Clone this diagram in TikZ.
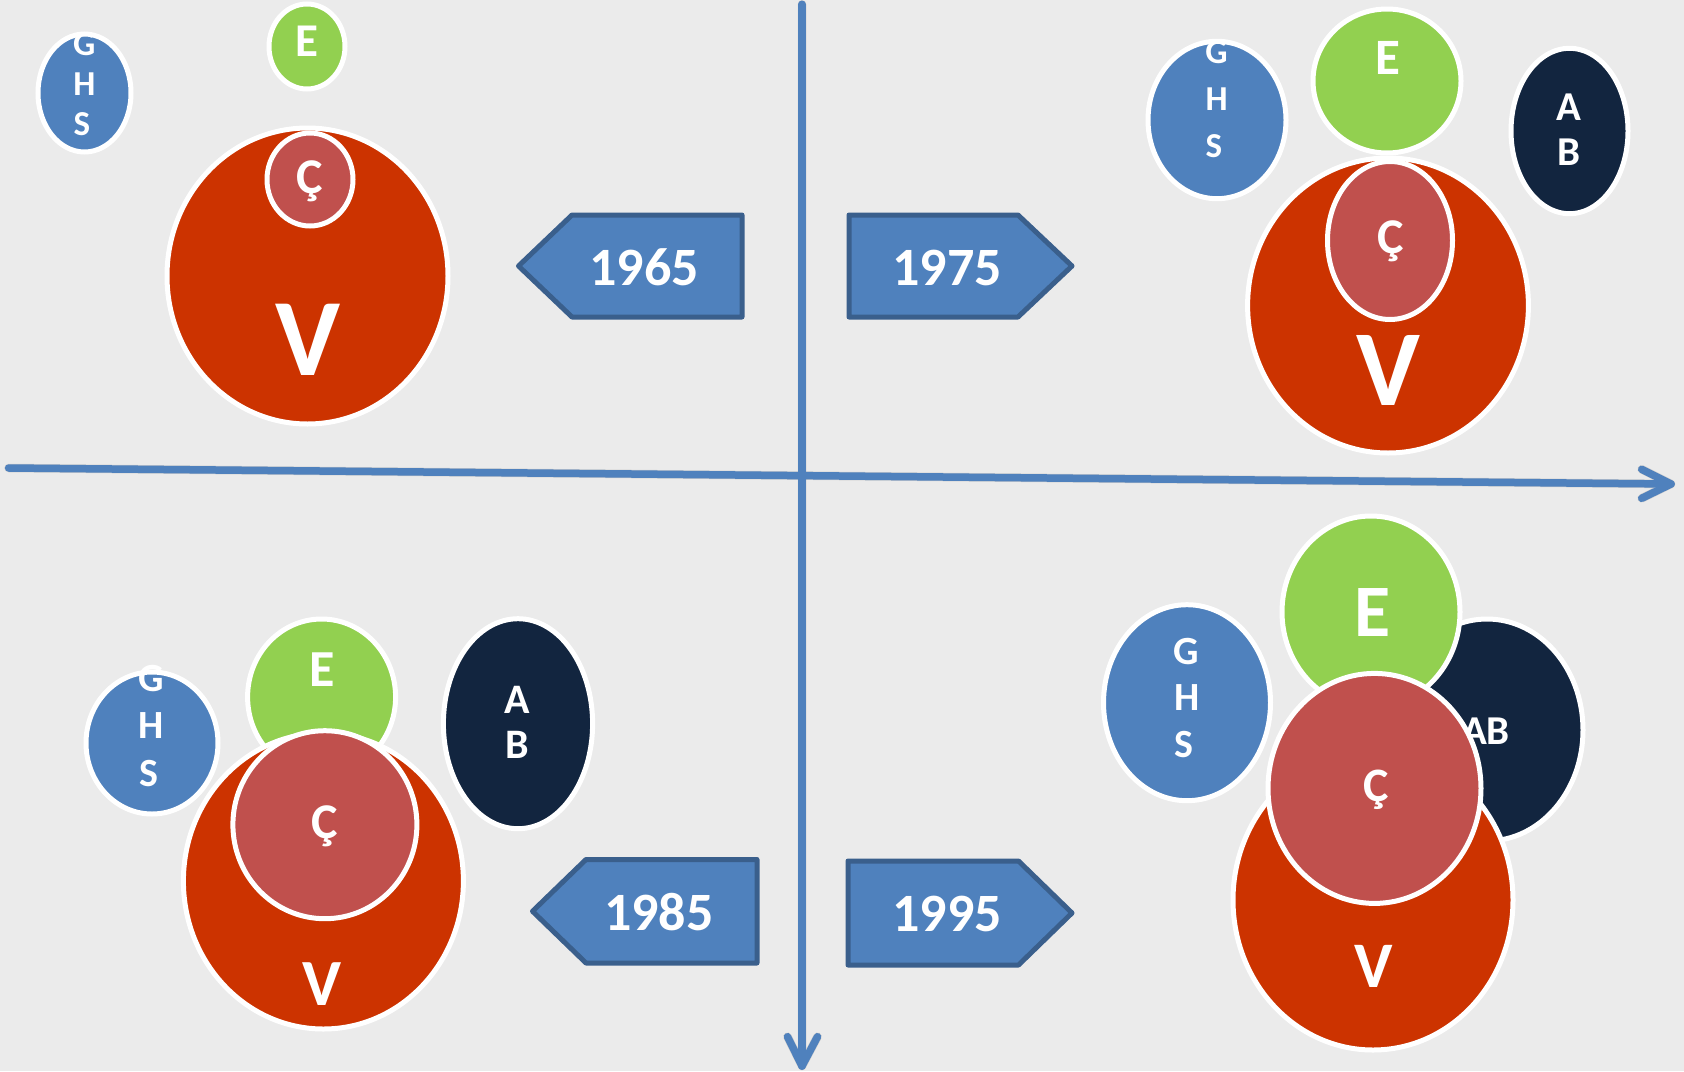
\documentclass[tikz,border=0pt]{standalone}
\usepackage{fontspec}
\setmainfont{Carlito}
\definecolor{bg}{HTML}{EBEBEB}
\definecolor{ghsblue}{HTML}{4F81BD}
\definecolor{egreen}{HTML}{92D050}
\definecolor{vred}{HTML}{CC3300}
\definecolor{cred}{HTML}{C0504D}
\definecolor{abnavy}{HTML}{12253F}
\definecolor{boxblue}{HTML}{4F81BD}
\definecolor{boxedge}{HTML}{3A5F8C}
\definecolor{axisblue}{HTML}{4F81BD}
\newcommand{\myfs}[1]{\bfseries\fontsize{#1}{#1}\selectfont}
\begin{document}
\begin{tikzpicture}[x=1pt,y=-1pt,
  bub/.style={draw=white, line width=5pt},
  lbl/.style={text=white, inner sep=0pt, anchor=base},
  yearbox/.style={draw=boxedge, fill=boxblue, line width=5pt, line join=round},
  axisline/.style={draw=axisblue, line width=7.5pt, line cap=round, line join=round},
  axisshadow/.style={draw=black, opacity=0.12, line width=8.5pt, line cap=round, line join=round}]
\useasboundingbox (0,0) rectangle (1684,1071);
\fill[bg] (0,0) rectangle (1684,1071);

% axes
\coordinate (h0) at (8.6,468);
\coordinate (h1) at (1671,484);
\coordinate (ha1) at (1641.7,469.3);
\coordinate (ha2) at (1641.7,498.3);
\coordinate (v0) at (802,4.3);
\coordinate (v1) at (802,1066);
\coordinate (va1) at (787.5,1036.7);
\coordinate (va2) at (817.5,1036.7);
\draw[axisshadow, shift={(2,3)}] (h0) -- (h1) (ha1) -- (h1) -- (ha2);
\draw[axisshadow, shift={(2,3)}] (v0) -- (v1) (va1) -- (v1) -- (va2);
\draw[axisline] (h0) -- (h1);
\draw[axisline] (ha1) -- (h1) -- (ha2);
\draw[axisline] (v0) -- (v1);
\draw[axisline] (va1) -- (v1) -- (va2);

% year boxes
\draw[yearbox] (572,215) -- (742,215) -- (742,317) -- (572,317) -- (518.5,266) -- cycle;
\node[lbl, font=\myfs{54}] (y1965) at (644,285) {1965};
\draw[yearbox] (849,215) -- (1018,215) -- (1072,266) -- (1018,317) -- (849,317) -- cycle;
\node[lbl, font=\myfs{54}] (y1975) at (947,285) {1975};
\draw[yearbox] (586,859.5) -- (757,859.5) -- (757,963) -- (586,963) -- (532.5,911.25) -- cycle;
\node[lbl, font=\myfs{54}] (y1985) at (658.8,930) {1985};
\draw[yearbox] (848,861) -- (1018.5,861) -- (1072,913) -- (1018.5,965) -- (848,965) -- cycle;
\node[lbl, font=\myfs{54}] (y1995) at (947,931.7) {1995};

% ---- top-left (1965)
\draw[bub, fill=ghsblue] (84.5,93) ellipse [x radius=46.5pt, y radius=59pt];
\node[lbl, font=\myfs{35}] (aG) at (84.3,55) {G};
\node[lbl, font=\myfs{35}] (aH) at (84.3,95) {H};
\node[lbl, font=\myfs{35}] (aS) at (82,135.5) {S};
\draw[bub, fill=egreen] (307,46.5) ellipse [x radius=38pt, y radius=42.5pt];
\node[lbl, font=\myfs{47}] (aE) at (307.3,56.7) {E};
\draw[bub, fill=vred] (307.5,276) ellipse [x radius=140.5pt, y radius=148pt];
\node[lbl, font=\myfs{110}] (aV) at (308,375) {V};
\draw[bub, fill=cred] (310,179.5) ellipse [x radius=43pt, y radius=46.5pt];
\node[lbl, font=\myfs{50}] (aC) at (310,193.3) {Ç};

% ---- top-right (1975)
\draw[bub, fill=ghsblue] (1217,120) ellipse [x radius=69pt, y radius=78.7pt];
\node[lbl, font=\myfs{35}] (bG) at (1216.6,63.3) {G};
\node[lbl, font=\myfs{35}] (bH) at (1216.6,110) {H};
\node[lbl, font=\myfs{35}] (bS) at (1214,157) {S};
\draw[bub, fill=egreen] (1387,81) ellipse [x radius=74pt, y radius=72pt];
\node[lbl, font=\myfs{51}] (bE) at (1388,74) {E};
\draw[bub, fill=abnavy] (1569.5,131) ellipse [x radius=58.5pt, y radius=82.7pt];
\node[lbl, font=\myfs{41}] (bA) at (1569,120) {A};
\node[lbl, font=\myfs{41}] (bB) at (1569,165) {B};
\draw[bub, fill=vred] (1388,305.5) ellipse [x radius=140.4pt, y radius=147.5pt];
\node[lbl, font=\myfs{108}] (bV) at (1388,405) {V};
\draw[bub, fill=cred] (1390,240.5) ellipse [x radius=62.5pt, y radius=79pt];
\node[lbl, font=\myfs{50}] (bC) at (1390.8,253.3) {Ç};

% ---- bottom-left (1985)
\draw[bub, fill=egreen] (321.6,697) ellipse [x radius=74pt, y radius=78pt];
\node[lbl, font=\myfs{52}] (cE) at (322.5,686.7) {E};
\draw[bub, fill=vred] (323.4,881) ellipse [x radius=140pt, y radius=148pt];
\node[lbl, font=\myfs{66}] (cV) at (322.5,1005) {V};
\draw[bub, fill=cred] (324.9,824.7) ellipse [x radius=92pt, y radius=94pt];
\node[lbl, font=\myfs{50}] (cC) at (325,838.3) {Ç};
\draw[bub, fill=ghsblue] (152,743) ellipse [x radius=66pt, y radius=71pt];
\node[lbl, font=\myfs{40}] (cG) at (151,691.7) {G};
\node[lbl, font=\myfs{40}] (cH) at (151,738.3) {H};
\node[lbl, font=\myfs{40}] (cS) at (148.6,786) {S};
\draw[bub, fill=abnavy] (518,723.7) ellipse [x radius=74.6pt, y radius=105pt];
\node[lbl, font=\myfs{42}] (cA) at (517,713.3) {A};
\node[lbl, font=\myfs{42}] (cB) at (517,758.3) {B};

% ---- bottom-right (1995)
\draw[bub, fill=ghsblue] (1187,702.7) ellipse [x radius=83.5pt, y radius=98pt];
\node[lbl, font=\myfs{40}] (dG) at (1186.7,664.3) {G};
\node[lbl, font=\myfs{40}] (dH) at (1186.7,710.7) {H};
\node[lbl, font=\myfs{40}] (dS) at (1184.3,757.9) {S};
\draw[bub, fill=abnavy] (1487,730) ellipse [x radius=96pt, y radius=111pt];
\node[lbl, font=\myfs{41}] (dAB) at (1486,744.6) {AB};
\draw[bub, fill=egreen] (1371,612) ellipse [x radius=89pt, y radius=96pt];
\node[lbl, font=\myfs{74}] (dE) at (1372.7,636.8) {E};
\draw[bub, fill=vred] (1373,900) ellipse [x radius=140pt, y radius=150pt];
\node[lbl, font=\myfs{65}] (dV) at (1373.3,987.5) {V};
\draw[bub, fill=cred] (1374.5,788.4) ellipse [x radius=106.5pt, y radius=115pt];
\node[lbl, font=\myfs{48}] (dC) at (1375.7,801.8) {Ç};
\end{tikzpicture}
\end{document}
